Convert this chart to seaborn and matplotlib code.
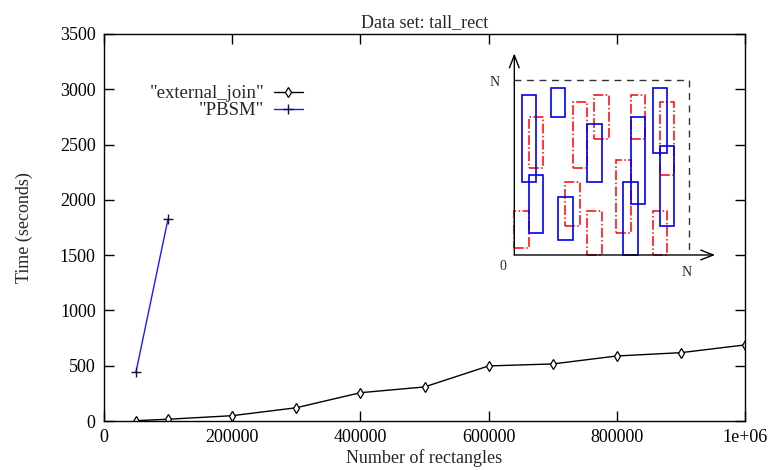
import matplotlib
matplotlib.use("Agg")
import matplotlib.pyplot as plt
import seaborn as sns
import pandas as pd
from matplotlib.patches import Rectangle

# ---- data ----
ej_x = [50000, 100000, 200000, 300000, 400000, 500000, 600000, 700000, 800000, 900000, 1000000]
ej_y = [3, 16, 48, 120, 256, 308, 498, 516, 588, 618, 688]
pbsm_x = [50000, 100000]
pbsm_y = [446, 1830]
x_ticks = [0, 200000, 400000, 600000, 800000, 1000000]
x_tick_labels = ["0", "200000", "400000", "600000", "800000", "1e+06"]
y_ticks = [0, 500, 1000, 1500, 2000, 2500, 3000, 3500]

# inset diagram rectangles (grid units, width 1)
blue_x = [0.5, 1, 2.5, 3, 5, 8, 7.5, 9.5, 10]
blue_y = [5, 1.5, 9.5, 1, 5, 3.5, 0, 7, 2]
blue_h = [6, 4, 2, 3, 4, 6, 5, 4.5, 5.5]
red_x = [1, 0, 4, 5.5, 3.5, 5, 7, 8, 10, 9.5]
red_y = [6, 0.5, 6, 8, 2, 0, 1.5, 8, 5.5, 0]
red_h = [3.5, 2.5, 4.5, 3, 3, 3, 5, 3, 5, 3]
grid_n = 12

sns.set_style("ticks")
plt.rcParams["font.family"] = ["Liberation Serif", "DejaVu Serif"]

fig = plt.figure(figsize=(7.7, 4.7), dpi=100)
ax = fig.add_axes([104 / 770, (470 - 421) / 470, (745 - 104) / 770, (421 - 34) / 470])

df1 = pd.DataFrame({"x": ej_x, "y": ej_y})
df2 = pd.DataFrame({"x": pbsm_x, "y": pbsm_y})
sns.lineplot(data=df1, x="x", y="y", ax=ax, color="black", linewidth=1.0,
             marker="d", markersize=5.5, markerfacecolor="white", markeredgecolor="black",
             markeredgewidth=0.9, label='"external_join"')
sns.lineplot(data=df2, x="x", y="y", ax=ax, color="#1a1aff", linewidth=1.0,
             marker="+", markersize=6.5, markeredgecolor="#101040", markeredgewidth=1.0,
             label='"PBSM"')

ax.set_xlim(0, 1000000)
ax.set_ylim(0, 3500)
ax.set_xticks(x_ticks)
ax.set_xticklabels(x_tick_labels)
ax.set_yticks(y_ticks)
ax.tick_params(direction="in", length=7, width=1, top=True, right=True,
               labelsize=13, pad=6, colors="black")
for s in ax.spines.values():
    s.set_color("black")
    s.set_linewidth(1.0)
ax.set_xlabel("Number of rectangles", fontsize=13, labelpad=2)
ax.set_ylabel("Time (seconds)", fontsize=13, labelpad=19)
ax.set_title("Data set: tall_rect", fontsize=13, pad=5)

leg = ax.legend(loc="upper right", bbox_to_anchor=(0.3105, 0.868), frameon=False,
                markerfirst=False, fontsize=13.5, handlelength=1.55, handletextpad=0.5,
                labelspacing=0.0, borderaxespad=0, borderpad=0)
for t in leg.get_texts():
    t.set_ha("right")
leg._legend_box.align = "right"

# ---- inset diagram ----
ins = fig.add_axes([485.2 / 770, (470 - 284.1) / 470, (718.1 - 485.2) / 770, (284.1 - 51.2) / 470])
ins.set_xlim(-2, 14)
ins.set_ylim(-2, 14)
ins.axis("off")
for x0, y0, h in zip(red_x, red_y, red_h):
    ins.add_patch(Rectangle((x0, y0), 1, h, fill=False, edgecolor="red",
                            linestyle="-.", linewidth=1.1))
for x0, y0, h in zip(blue_x, blue_y, blue_h):
    ins.add_patch(Rectangle((x0, y0), 1, h, fill=False, edgecolor="#0000ee",
                            linewidth=1.2))
ins.plot([0, grid_n, grid_n], [grid_n, grid_n, 0], color="#333333",
         linestyle=(0, (5, 4)), linewidth=1.0)
ins.annotate("", xy=(13.8, 0), xytext=(0, 0),
             arrowprops=dict(arrowstyle="->,head_length=0.9,head_width=0.35",
                             color="black", linewidth=1.0, shrinkA=0, shrinkB=0))
ins.annotate("", xy=(0, 13.85), xytext=(0, 0),
             arrowprops=dict(arrowstyle="->,head_length=0.9,head_width=0.35",
                             color="black", linewidth=1.0, shrinkA=0, shrinkB=0))
ins.text(-1.33, 11.85, "N", fontsize=10, ha="center", va="center")
ins.text(-0.8, -0.8, "0", fontsize=10, ha="center", va="center")
ins.text(11.85, -1.2, "N", fontsize=10, ha="center", va="center")

fig.savefig("out.png", dpi=100)
